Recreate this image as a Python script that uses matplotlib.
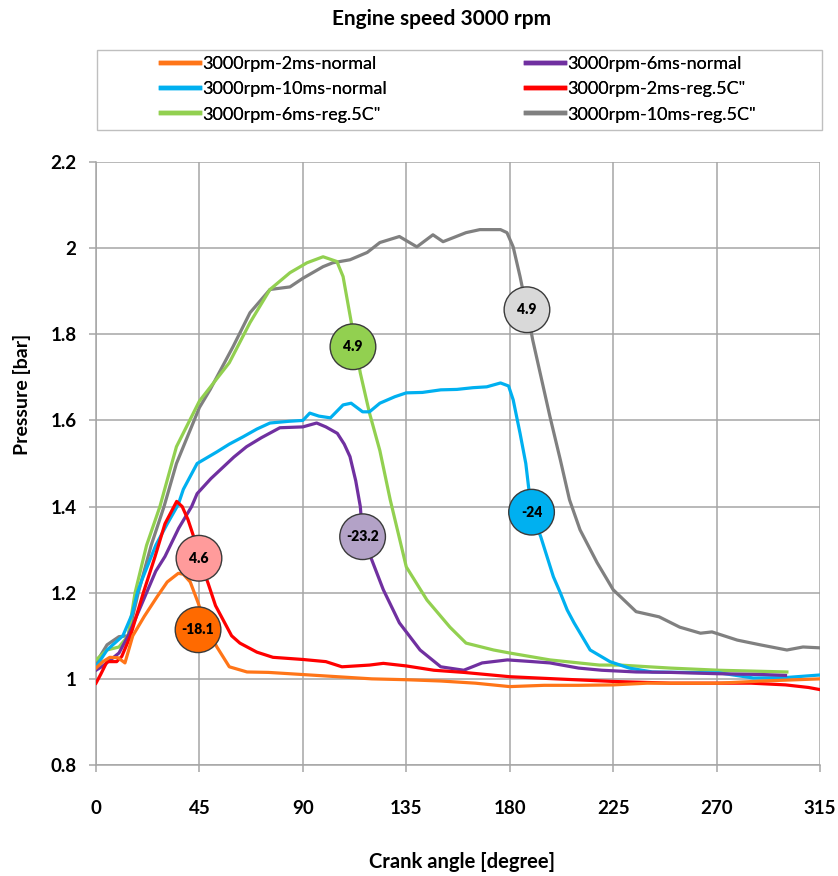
import matplotlib
matplotlib.use("Agg")
import matplotlib.pyplot as plt
from matplotlib.patches import Rectangle

plt.rcParams['font.family'] = ['Lato', 'DejaVu Sans']

# ---------------- data (crank angle [deg], pressure [bar]) ----------------
orange_x = [0, 3, 6, 9.6, 12.6, 16, 21, 26.5, 31, 35.8, 38, 41, 44.4, 48, 52.6, 58, 65.7, 75, 90,
            105, 120, 135, 150, 165, 180, 195, 210, 225, 240, 255, 271, 290, 305, 315]
orange_y = [1.025, 1.04, 1.05, 1.049, 1.037, 1.10, 1.145, 1.19, 1.225, 1.245, 1.243, 1.225, 1.177, 1.12,
            1.074, 1.028, 1.016, 1.015, 1.01, 1.005, 1.0, 0.998, 0.995, 0.99, 0.982, 0.985, 0.985,
            0.986, 0.99, 0.99, 0.99, 0.995, 0.998, 1.0]

purple_x = [0, 3, 6.3, 10, 14, 18, 22, 26, 30, 36, 41.6, 44, 50, 55, 60, 65.5, 72, 80, 90, 96, 100,
            105, 108, 110.5, 113, 115, 116, 120, 125, 132, 141, 150, 160, 168, 179, 190, 197.5,
            210, 220, 235, 250, 270, 290, 300]
purple_y = [1.02, 1.03, 1.044, 1.06, 1.10, 1.15, 1.20, 1.25, 1.284, 1.35, 1.40, 1.43, 1.465, 1.49,
            1.515, 1.539, 1.56, 1.583, 1.585, 1.594, 1.585, 1.57, 1.545, 1.516, 1.46, 1.40, 1.33,
            1.276, 1.207, 1.13, 1.067, 1.028, 1.02, 1.037, 1.044, 1.04, 1.037, 1.025, 1.02, 1.016,
            1.015, 1.012, 1.01, 1.008]

cyan_x = [0, 4.8, 11.7, 15.7, 18, 20, 26, 31, 35.8, 38, 40, 44, 52.6, 58, 64, 70, 75.7, 84, 90, 93,
          97, 102, 107.5, 111, 116, 119, 123.5, 130, 135, 142, 150, 157, 164, 170, 176, 178, 179.5,
          181.5, 184.5, 187, 189.5, 193.5, 199, 202, 205, 208, 215, 223.6, 232, 242, 255, 271, 286,
          300, 315]
cyan_y = [1.028, 1.067, 1.10, 1.15, 1.20, 1.23, 1.31, 1.36, 1.405, 1.44, 1.46, 1.50, 1.527, 1.545,
          1.562, 1.58, 1.594, 1.598, 1.60, 1.617, 1.61, 1.606, 1.636, 1.64, 1.62, 1.62, 1.64, 1.655,
          1.664, 1.665, 1.671, 1.672, 1.676, 1.678, 1.687, 1.683, 1.68, 1.648, 1.57, 1.50, 1.387,
          1.33, 1.237, 1.20, 1.16, 1.13, 1.067, 1.04, 1.025, 1.016, 1.015, 1.014, 1.002, 1.003, 1.009]

red_x = [0, 2, 4.8, 9, 11.2, 15, 20.6, 25.7, 30, 35.1, 37.5, 40, 42.5, 44.8, 48.7, 52, 55.3, 59,
         62.6, 70, 77, 90, 100, 107, 113, 119, 125, 135, 147, 160, 180, 200, 225, 250, 271, 285,
         300, 310, 315]
red_y = [0.99, 1.01, 1.04, 1.04, 1.052, 1.10, 1.20, 1.284, 1.36, 1.412, 1.40, 1.37, 1.33, 1.28,
         1.223, 1.17, 1.137, 1.10, 1.083, 1.062, 1.05, 1.045, 1.04, 1.028, 1.03, 1.032, 1.036, 1.03,
         1.02, 1.015, 1.005, 1.0, 0.994, 0.99, 0.99, 0.99, 0.986, 0.98, 0.975]

green_x = [0, 4.8, 10, 14, 17, 22, 27.8, 35, 45, 58, 67, 75.7, 84.4, 91.8, 98.8, 104.8, 107.5, 112,
           115, 119, 123.5, 128, 135, 144, 154, 161, 173, 180, 197.5, 219, 228, 250, 271, 300.6]
green_y = [1.044, 1.067, 1.074, 1.10, 1.20, 1.31, 1.40, 1.539, 1.645, 1.734, 1.827, 1.904, 1.943,
           1.966, 1.98, 1.969, 1.934, 1.80, 1.71, 1.617, 1.53, 1.416, 1.26, 1.183, 1.12, 1.083,
           1.067, 1.06, 1.044, 1.032, 1.032, 1.025, 1.02, 1.016]

gray_x = [0, 4.8, 10, 14, 18.4, 24, 29.6, 35, 45, 49.6, 59.6, 67, 75.7, 84.4, 90, 98.8, 103, 110.5,
          118, 123.5, 132, 139.6, 146.6, 151, 161, 167, 176, 178.8, 181.5, 184.5, 187.5, 190, 197.5,
          202, 206, 210.6, 218, 225, 235, 245, 254, 263, 268, 279, 289, 300.6, 307.6, 315]
gray_y = [1.037, 1.079, 1.098, 1.10, 1.20, 1.31, 1.40, 1.50, 1.63, 1.671, 1.771, 1.85, 1.904, 1.91,
          1.93, 1.957, 1.966, 1.973, 1.99, 2.013, 2.027, 2.003, 2.031, 2.015, 2.036, 2.043, 2.043,
          2.036, 2.003, 1.934, 1.857, 1.787, 1.609, 1.509, 1.416, 1.346, 1.27, 1.207, 1.156, 1.144,
          1.12, 1.106, 1.109, 1.09, 1.079, 1.067, 1.074, 1.072]

series_labels = ["3000rpm-2ms-normal", "3000rpm-6ms-normal", "3000rpm-10ms-normal",
                 "3000rpm-2ms-reg.5C\"", "3000rpm-6ms-reg.5C\"", "3000rpm-10ms-reg.5C\""]
series_colors = ["#FF7518", "#7030A0", "#00B0F0", "#FF0000", "#92D050", "#808080"]

# data-label bubbles
bubble_text = ["-18.1", "4.6", "-23.2", "-24", "4.9", "4.9"]
bubble_x = [44.4, 44.8, 116, 189.5, 111.8, 187.5]
bubble_y = [1.114, 1.28, 1.33, 1.387, 1.771, 1.857]
bubble_face = ["#FF6A00", "#FF9B9B", "#B3A2C7", "#00B0F0", "#92D050", "#D9D9D9"]

x_ticks = [0, 45, 90, 135, 180, 225, 270, 315]
y_ticks = [0.8, 1.0, 1.2, 1.4, 1.6, 1.8, 2.0, 2.2]
y_tick_labels = ["0.8", "1", "1.2", "1.4", "1.6", "1.8", "2", "2.2"]

# ---------------- figure ----------------
W, H = 838, 876
fig = plt.figure(figsize=(W / 100, H / 100), dpi=100)
ax = fig.add_axes([96 / W, 1 - 765 / H, (820 - 96) / W, (765 - 162) / H])

xs = [orange_x, purple_x, cyan_x, red_x, green_x, gray_x]
ys = [orange_y, purple_y, cyan_y, red_y, green_y, gray_y]
draw_order = [5, 4, 2, 1, 3, 0]
handles = [None] * 6
for i in draw_order:
    ln, = ax.plot(xs[i], ys[i], color=series_colors[i], lw=2.3, solid_joinstyle='round',
                  label=series_labels[i], zorder=3)
    handles[i] = ln

ax.scatter(bubble_x, bubble_y, s=1080, c=bubble_face, edgecolors="#3A3A3A", linewidths=1.0,
           zorder=5)
for t, bx, by in zip(bubble_text, bubble_x, bubble_y):
    ax.text(bx, by, t, ha='center', va='center', fontsize=10, fontweight='heavy',
            color='black', zorder=6)

ax.set_xlim(0, 315)
ax.set_ylim(0.8, 2.2)
ax.set_xticks(x_ticks)
ax.set_yticks(y_ticks)
ax.set_yticklabels(y_tick_labels)
ax.grid(True, color="#A6A6A6", lw=1.1, zorder=0)
ax.set_axisbelow(True)
for s in ['top', 'right']:
    ax.spines[s].set_visible(False)
for s in ['left', 'bottom']:
    ax.spines[s].set_color("#A6A6A6")
    ax.spines[s].set_linewidth(1.1)
ax.tick_params(axis='both', direction='out', length=5, width=1.1, color="#A6A6A6",
               labelsize=13.5, labelcolor='black')
ax.tick_params(axis='x', pad=20)
ax.tick_params(axis='y', pad=9)
for lab in ax.get_xticklabels() + ax.get_yticklabels():
    lab.set_fontweight('bold')

# labels / title
fig.text(442 / W, 1 - 19 / H, "Engine speed 3000 rpm", ha='center', va='center',
         fontsize=15, fontweight='bold')
fig.text(462 / W, 1 - 862 / H, "Crank angle [degree]", ha='center', va='center',
         fontsize=14.5, fontweight='bold')
fig.text(22 / W, 1 - 394 / H, "Pressure [bar]", ha='center', va='center', rotation=90,
         fontsize=14, fontweight='bold')

# legend frame + two legend columns
fig.patches.append(Rectangle((97 / W, 1 - 130 / H), (822 - 97) / W, 80 / H,
                             transform=fig.transFigure, fill=False, ec="#BFBFBF", lw=1.0))
col_members = [[0, 2, 4], [1, 3, 5]]
col_left_px = [161, 526]
for members, left in zip(col_members, col_left_px):
    leg = fig.legend([handles[i] for i in members], [series_labels[i] for i in members],
                     ncol=1, loc='upper left', bbox_to_anchor=(left / W, 1 - 56 / H),
                     frameon=False, fontsize=13, handlelength=2.15, handletextpad=0.12,
                     labelspacing=0.52, borderpad=0, borderaxespad=0)
    for ln in leg.get_lines():
        ln.set_linewidth(3.2)
    fig.add_artist(leg)

fig.savefig("out.png", dpi=100)
